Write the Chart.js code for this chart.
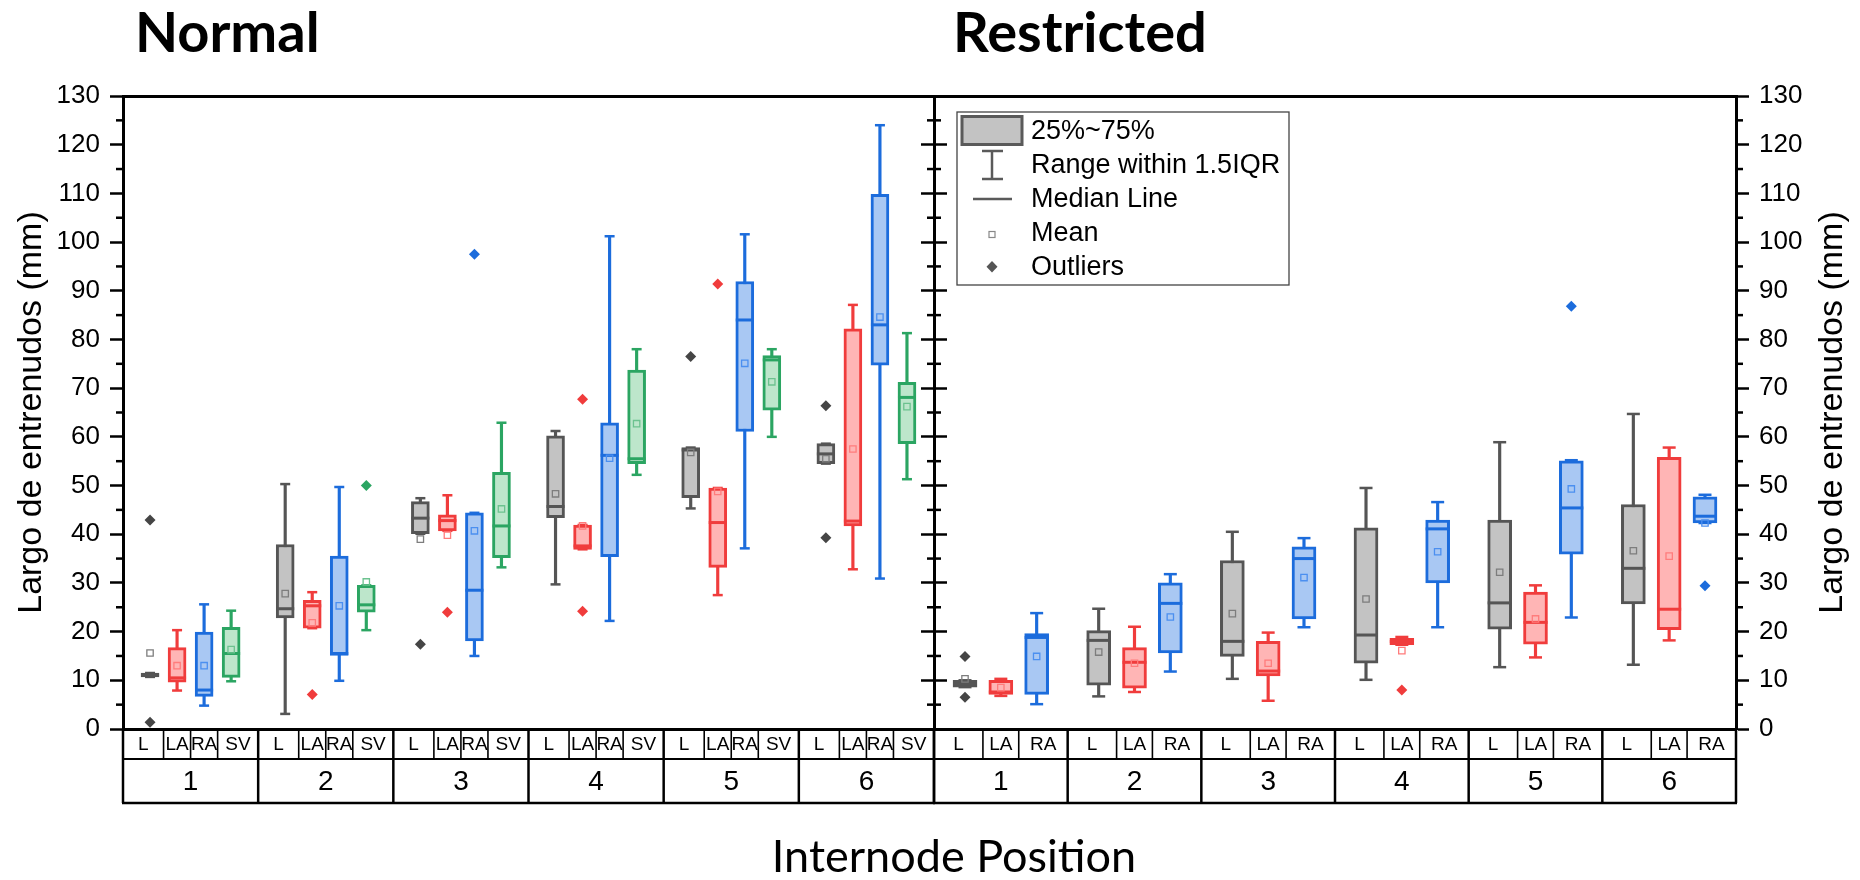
<!DOCTYPE html>
<html>
<head>
<meta charset="utf-8">
<script src="https://cdn.jsdelivr.net/npm/chart.js@4.4.1/dist/chart.umd.min.js"></script>
<style>
  html, body { margin: 0; padding: 0; background: #fff; }
  #cadre { position: relative; width: 1860px; height: 880px; }
  canvas { position: absolute; left: 0; top: 0; }
</style>
</head>
<body>
<div id="cadre">
  <canvas id="normal" width="1860" height="880"></canvas>
  <canvas id="restricted" width="1860" height="880"></canvas>
</div>
<script>
// ---- Données ----
const groupes = ['1', '2', '3', '4', '5', '6']
const catsNormal = ['L', 'LA', 'RA', 'SV']
const catsRestricted = ['L', 'LA', 'RA']
const yMin = 0, yMax = 130, yPas = 10

// une ligne par position : [moustache basse, Q1, médiane, Q3, moustache haute, moyenne]
const normalL  = [[10.7, 10.7, 11.1, 11.5, 11.5, 15.6], [3.1, 22.8, 24.7, 37.9, 50.3, 27.8], [40.1, 40.1, 43.3, 46.7, 47.4, 39.0],
                  [29.7, 43.4, 45.7, 60.2, 61.2, 48.3], [45.3, 47.5, 57.3, 57.8, 57.8, 56.8], [54.5, 54.5, 56.5, 58.6, 58.6, 55.5]]
const normalLA = [[7.9, 9.6, 10.5, 16.7, 20.3, 13.0], [20.7, 20.7, 25.3, 26.4, 28.1, 21.8], [40.7, 40.7, 42.8, 44.0, 48.0, 39.8],
                  [36.9, 36.9, 37.6, 41.9, 41.9, 41.7], [27.5, 33.2, 42.4, 49.5, 49.5, 48.8], [32.8, 41.7, 42.7, 82.2, 87.1, 57.5]]
const normalRA = [[4.8, 6.7, 8.0, 19.9, 25.6, 13.0], [9.9, 15.1, 15.5, 35.5, 49.7, 25.3], [15.0, 18.1, 28.5, 44.4, 44.4, 40.7],
                  [22.2, 35.4, 56.2, 62.9, 101.2, 55.6], [37.1, 61.1, 84.0, 91.9, 101.6, 75.1], [30.9, 74.7, 83.0, 109.8, 124.0, 84.6]]
const normalSV = [[9.8, 10.6, 15.5, 20.9, 24.3, 16.3], [20.3, 24.0, 25.5, 29.5, 29.5, 30.2], [33.2, 35.2, 41.7, 52.7, 62.9, 45.2],
                  [52.2, 54.5, 55.5, 73.7, 78.0, 62.7], [60.0, 65.5, 75.8, 76.7, 78.0, 71.3], [51.3, 58.6, 68.1, 71.2, 81.3, 66.2]]

const restrictedL  = [[8.6, 8.6, 9.3, 10.0, 10.0, 10.3], [6.7, 9.0, 18.2, 20.2, 24.7, 15.8], [10.3, 14.9, 18.0, 34.6, 40.5, 23.7],
                      [10.1, 13.5, 19.3, 41.3, 49.5, 26.7], [12.7, 20.5, 25.9, 42.9, 58.9, 32.2], [13.2, 25.7, 33.0, 46.1, 64.7, 36.6]]
const restrictedLA = [[6.8, 7.1, 7.6, 10.0, 10.3, 8.5], [7.6, 8.4, 13.7, 16.7, 21.0, 13.5], [5.8, 10.9, 11.9, 18.0, 19.8, 13.5],
                      [17.3, 17.3, 18.0, 18.6, 18.9, 16.1], [14.7, 17.4, 21.9, 28.1, 29.5, 22.6], [18.2, 20.4, 24.6, 55.8, 57.8, 35.5]]
const restrictedRA = [[5.1, 7.1, 18.8, 19.6, 23.8, 14.9], [11.8, 15.6, 25.8, 30.0, 31.8, 23.0], [20.9, 22.6, 35.0, 37.4, 39.2, 31.1],
                      [20.9, 30.0, 41.1, 42.9, 46.6, 36.4], [22.9, 35.9, 45.4, 55.1, 55.2, 49.3], [42.3, 42.3, 43.7, 47.7, 48.1, 42.3]]

// valeurs aberrantes : [indice de position, valeur]
const normalLOut  = [[0, 42.9], [0, 1.4], [2, 17.4], [4, 76.5], [5, 66.4], [5, 39.3]]
const normalLAOut = [[1, 7.1], [2, 24.0], [3, 67.7], [3, 24.2], [4, 91.4]]
const normalRAOut = [[2, 97.5]]
const normalSVOut = [[1, 50.0]]
const restrictedLOut  = [[0, 14.9], [0, 6.5]]
const restrictedLAOut = [[3, 8.0]]
const restrictedRAOut = [[4, 86.8], [5, 29.4]]

// ---- Mise en page ----
const decalNormal = [0.2, 0.4, 0.6, 0.8]
const bordsNormal = [0.3, 0.5, 0.7]
const decalRestricted = [0.232, 0.5, 0.768]
const bordsRestricted = [0.366, 0.634]

const couleurs = {
  L:  { trait: '#555555', fond: '#c3c3c3', moyenne: '#7d7d7d', point: '#454545' },
  LA: { trait: '#f03c3c', fond: '#ffb5b5', moyenne: '#ff7c7c', point: '#f03c3c' },
  RA: { trait: '#1c6cdc', fond: '#a9c8f3', moyenne: '#4b8ff0', point: '#1c6cdc' },
  SV: { trait: '#2ba562', fond: '#bde6cb', moyenne: '#6cc28f', point: '#2ba562' }
}
const arial = "'Liberation Sans', Arial, sans-serif"

function jeuxDeDonnees(series, cats, aberrants, decalages, largeur, chapeau) {
  const ds = []
  series.forEach((lignes, k) => {
    const c = couleurs[cats[k]]
    const px = i => i + decalages[k]
    // tige de la moustache
    ds.push({ type: 'bar', order: 6, grouped: false, barThickness: 2.5, backgroundColor: c.trait, borderWidth: 0,
      data: lignes.map((r, i) => ({ x: px(i), y: [r[0], r[4]] })) })
    // chapeaux
    ds.push({ type: 'scatter', order: 5, pointStyle: 'line', pointRadius: chapeau, pointBorderColor: c.trait, pointBorderWidth: 2.5,
      data: lignes.flatMap((r, i) => [{ x: px(i), y: r[0] }, { x: px(i), y: r[4] }]) })
    // boîte 25%~75%
    ds.push({ type: 'bar', order: 4, grouped: false, barThickness: largeur, backgroundColor: c.fond, borderColor: c.trait,
      borderWidth: 3, borderSkipped: false,
      data: lignes.map((r, i) => ({ x: px(i), y: [r[1], r[3]] })) })
    // médiane
    ds.push({ type: 'scatter', order: 3, pointStyle: 'line', pointRadius: largeur / 2, pointBorderColor: c.trait, pointBorderWidth: 3,
      data: lignes.map((r, i) => ({ x: px(i), y: r[2] })) })
    // moyenne
    ds.push({ type: 'scatter', order: 2, pointStyle: 'rect', pointRadius: 4.5, pointBackgroundColor: 'rgba(0,0,0,0)',
      pointBorderColor: c.moyenne, pointBorderWidth: 1.3,
      data: lignes.map((r, i) => ({ x: px(i), y: r[5] })) })
    // aberrants
    ds.push({ type: 'scatter', order: 1, pointStyle: 'rectRot', pointRadius: 5.5, pointBackgroundColor: c.point, pointBorderWidth: 0,
      data: aberrants[k].map(([g, v]) => ({ x: px(g), y: v })) })
  })
  return ds
}

function trait(ctx, x0, y0, x1, y1, w) {
  ctx.lineWidth = w
  ctx.beginPath()
  ctx.moveTo(x0, y0)
  ctx.lineTo(x1, y1)
  ctx.stroke()
}

// petites graduations (tous les 5)
const graduations = {
  id: 'graduations',
  afterDraw(chart) {
    const ctx = chart.ctx
    ctx.save()
    ctx.strokeStyle = '#000'
    Object.values(chart.scales).filter(s => s.axis === 'y').forEach(s => {
      for (let v = yMin + yPas / 2; v < yMax; v += yPas) {
        const py = s.getPixelForValue(v)
        if (s.position === 'left') trait(ctx, s.right - 7, py, s.right, py, 2.5)
        else trait(ctx, s.left, py, s.left + 7, py, 2.5)
      }
    })
    ctx.restore()
  }
}

// tableau des catégories sous l'axe
const tableau = {
  id: 'tableau',
  afterDraw(chart, args, opts) {
    const { ctx, chartArea: a, scales: { x } } = chart
    const y0 = a.bottom, y1 = a.bottom + 30, y2 = a.bottom + 74
    ctx.save()
    ctx.strokeStyle = '#000'
    trait(ctx, a.left, y1, a.right, y1, 2)
    trait(ctx, a.left - 1, y2, a.right + 1, y2, 2.5)
    groupes.forEach((g, i) => {
      opts.bords.forEach(b => {
        const p = x.getPixelForValue(i + b)
        trait(ctx, p, y0, p, y1, 1.6)
      })
    })
    for (let i = 0; i <= groupes.length; i++) {
      const p = x.getPixelForValue(i)
      trait(ctx, p, y0, p, y2, 2.5)
    }
    ctx.fillStyle = '#000'
    ctx.textAlign = 'center'
    ctx.textBaseline = 'middle'
    const bords = [0, ...opts.bords, 1]
    groupes.forEach((g, i) => {
      ctx.font = '19px ' + arial
      opts.cats.forEach((c, k) => {
        ctx.fillText(c, x.getPixelForValue(i + (bords[k] + bords[k + 1]) / 2), (y0 + y1) / 2 + 1)
      })
      ctx.font = '28px ' + arial
      ctx.fillText(g, x.getPixelForValue(i + 0.5), (y1 + y2) / 2 + 1)
    })
    ctx.restore()
  }
}

// titres et textes libres
const textes = {
  id: 'textes',
  afterDraw(chart, args, opts) {
    const ctx = chart.ctx
    ctx.save()
    ctx.fillStyle = '#000'
    ctx.textBaseline = 'alphabetic'
    ctx.textAlign = 'left'
    ctx.font = "bold 56px Lato, 'Open Sans', sans-serif"
    ctx.fillText(opts.titre, opts.titreX, 52)
    if (opts.basDePage) {
      ctx.textAlign = 'center'
      ctx.font = "45px Lato, 'Open Sans', sans-serif"
      ctx.fillText(opts.basDePage, 954, 872)
    }
    if (opts.titreDroit) {
      const a = chart.chartArea
      ctx.translate(1833, (a.top + a.bottom) / 2)
      ctx.rotate(-Math.PI / 2)
      ctx.textAlign = 'center'
      ctx.textBaseline = 'middle'
      ctx.font = '34px ' + arial
      ctx.fillText(opts.titreDroit, 0, 0)
    }
    ctx.restore()
  }
}

// légende Origin
const legende = {
  id: 'legende',
  afterDraw(chart) {
    const ctx = chart.ctx
    const gris = '#5a5a5a'
    ctx.save()
    ctx.fillStyle = '#fff'
    ctx.fillRect(957, 112, 332, 173)
    ctx.strokeStyle = '#444'
    ctx.lineWidth = 1.3
    ctx.strokeRect(957, 112, 332, 173)
    ctx.fillStyle = couleurs.L.fond
    ctx.fillRect(962, 116.5, 60, 28)
    ctx.strokeStyle = gris
    ctx.lineWidth = 3
    ctx.strokeRect(962, 116.5, 60, 28)
    trait(ctx, 992, 151, 992, 179, 2.5)
    trait(ctx, 982, 151, 1003, 151, 2.5)
    trait(ctx, 982, 179, 1003, 179, 2.5)
    trait(ctx, 973, 199, 1012, 199, 2.5)
    ctx.strokeStyle = '#888'
    ctx.lineWidth = 1.2
    ctx.strokeRect(989, 231.5, 6, 6)
    ctx.fillStyle = '#555'
    ctx.beginPath()
    ctx.moveTo(992, 261); ctx.lineTo(997.5, 266.7); ctx.lineTo(992, 272.4); ctx.lineTo(986.5, 266.7)
    ctx.closePath()
    ctx.fill()
    ctx.fillStyle = '#000'
    ctx.font = '27px ' + arial
    ctx.textBaseline = 'middle'
    ctx.textAlign = 'left'
    const libelles = ['25%~75%', 'Range within 1.5IQR', 'Median Line', 'Mean', 'Outliers']
    const ys = [131, 165, 199, 233, 267]
    libelles.forEach((t, i) => ctx.fillText(t, 1031, ys[i] + 1))
    ctx.restore()
  }
}

function axeY(position, labels, largeur, extra) {
  return Object.assign({
    type: 'linear', position, min: yMin, max: yMax,
    ticks: { display: labels, stepSize: yPas, color: '#000', padding: 10, font: { family: arial, size: 26 } },
    grid: { display: true, drawOnChartArea: false, drawTicks: true, tickLength: 13, tickWidth: 2.5, tickColor: '#000' },
    border: { display: true, color: '#000', width: 3 },
    afterFit: s => { s.width = largeur }
  }, extra || {})
}

function axesX() {
  return {
    x: { type: 'linear', position: 'bottom', min: 0, max: groupes.length, offset: false,
      ticks: { display: false }, grid: { display: false, offset: false },
      border: { display: true, color: '#000', width: 3 },
      afterFit: s => { s.height = 151 } },
    xHaut: { type: 'linear', position: 'top', min: 0, max: groupes.length, offset: false,
      ticks: { display: false }, grid: { display: false },
      border: { display: true, color: '#000', width: 3 },
      afterFit: s => { s.height = 0 } }
  }
}

const communs = { responsive: false, animation: false, events: [], devicePixelRatio: 1 }

// ---- Panneau Normal ----
new Chart(document.getElementById('normal'), {
  type: 'bar',
  data: { datasets: jeuxDeDonnees([normalL, normalLA, normalRA, normalSV], catsNormal,
    [normalLOut, normalLAOut, normalRAOut, normalSVOut], decalNormal, 18, 5) },
  options: Object.assign({}, communs, {
    layout: { padding: { left: 0, top: 96, right: 1860 - 934 - 13, bottom: 0 } },
    plugins: {
      legend: { display: false }, tooltip: { enabled: false },
      tableau: { cats: catsNormal, bords: bordsNormal },
      textes: { titre: 'Normal', titreX: 135, basDePage: 'Internode Position' }
    },
    scales: Object.assign(axesX(), {
      y: axeY('left', true, 123, {
        title: { display: true, text: 'Largo de entrenudos (mm)', color: '#000',
          font: { family: arial, size: 34 }, padding: { top: 11, bottom: 0 } }
      }),
      yDroit: axeY('right', false, 13)
    })
  }),
  plugins: [graduations, tableau, textes]
})

// ---- Panneau Restricted ----
new Chart(document.getElementById('restricted'), {
  type: 'bar',
  data: { datasets: jeuxDeDonnees([restrictedL, restrictedLA, restrictedRA], catsRestricted,
    [restrictedLOut, restrictedLAOut, restrictedRAOut], decalRestricted, 24, 6.5) },
  options: Object.assign({}, communs, {
    layout: { padding: { left: 934 - 13, top: 96, right: 0, bottom: 0 } },
    plugins: {
      legend: { display: false }, tooltip: { enabled: false },
      tableau: { cats: catsRestricted, bords: bordsRestricted },
      textes: { titre: 'Restricted', titreX: 953, titreDroit: 'Largo de entrenudos (mm)' }
    },
    scales: Object.assign(axesX(), {
      yGauche: axeY('left', false, 13),
      y: axeY('right', true, 124)
    })
  }),
  plugins: [graduations, tableau, textes, legende]
})
</script>
</body>
</html>
